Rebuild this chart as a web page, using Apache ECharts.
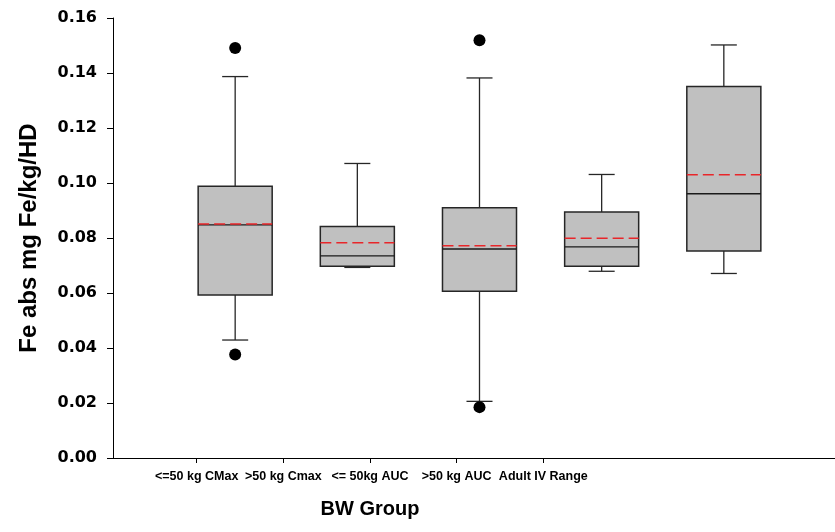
<!DOCTYPE html>
<html>
<head>
<meta charset="utf-8">
<script src="https://cdn.jsdelivr.net/npm/echarts@6/dist/echarts.min.js"></script>
<style>
html,body{margin:0;padding:0;background:#fff;}
#c{width:835px;height:532px;}
</style>
</head>
<body>
<div id="c"></div>
<script>
// ---- data ----
var categories = ['<=50 kg CMax', '>50 kg Cmax', '<= 50kg AUC', '>50 kg AUC', 'Adult IV Range'];
var boxPositions = [1, 2, 3, 4, 5];
var lowerWhisker = [0.0429, 0.0693, 0.0206, 0.0679, 0.0671];
var q1 = [0.0593, 0.0697, 0.0606, 0.0697, 0.0753];
var median = [0.0848, 0.0735, 0.0760, 0.0768, 0.0961];
var q3 = [0.0988, 0.0842, 0.0910, 0.0895, 0.1351];
var upperWhisker = [0.1387, 0.1071, 0.1382, 0.1031, 0.1502];
var means = [0.0851, 0.0783, 0.0772, 0.0799, 0.1030];
var outlierGroup = [1, 1, 3, 3];
var outlierValue = [0.1491, 0.0376, 0.1519, 0.0185];
var yTicks = [0, 0.02, 0.04, 0.06, 0.08, 0.10, 0.12, 0.14, 0.16];

var boxData = boxPositions.map(function (p, i) {
  return [p, lowerWhisker[i], q1[i], median[i], q3[i], upperWhisker[i], means[i]];
});
var outlierData = outlierGroup.map(function (g, i) { return [g, outlierValue[i]]; });

var LINE = '#262626';

function renderBox(params, api) {
  var x = api.value(0);
  var w = api.size([0.606, 0])[0];
  var cw = api.size([0.213, 0])[0];
  var pLow = api.coord([x, api.value(1)]);
  var pQ1 = api.coord([x, api.value(2)]);
  var pMed = api.coord([x, api.value(3)]);
  var pQ3 = api.coord([x, api.value(4)]);
  var pHigh = api.coord([x, api.value(5)]);
  var pMean = api.coord([x, api.value(6)]);
  var cx = pQ1[0];
  var children = [
    {type: 'line', shape: {x1: cx, y1: pQ3[1], x2: cx, y2: pHigh[1]}, style: {stroke: LINE, lineWidth: 1.3}},
    {type: 'line', shape: {x1: cx, y1: pQ1[1], x2: cx, y2: pLow[1]}, style: {stroke: LINE, lineWidth: 1.3}},
    {type: 'line', shape: {x1: cx - cw / 2, y1: pHigh[1], x2: cx + cw / 2, y2: pHigh[1]}, style: {stroke: LINE, lineWidth: 1.3}},
    {type: 'line', shape: {x1: cx - cw / 2, y1: pLow[1], x2: cx + cw / 2, y2: pLow[1]}, style: {stroke: LINE, lineWidth: 1.3}},
    {type: 'rect', shape: {x: cx - w / 2, y: pQ3[1], width: w, height: pQ1[1] - pQ3[1]},
      style: {fill: '#c0c0c0', stroke: LINE, lineWidth: 1.5}},
    {type: 'line', shape: {x1: cx - w / 2, y1: pMed[1], x2: cx + w / 2, y2: pMed[1]}, style: {stroke: '#1a1a1a', lineWidth: 1.3}},
    {type: 'line', shape: {x1: cx - w / 2, y1: pMean[1], x2: cx + w / 2, y2: pMean[1]},
      style: {stroke: '#e8262a', lineWidth: 1.4, lineDash: [11, 5]}}
  ];
  return {type: 'group', children: children};
}

var chart = echarts.init(document.getElementById('c'), null, {renderer: 'canvas'});
chart.setOption({
  animation: false,
  backgroundColor: '#ffffff',
  grid: [
    {left: 113, top: 18, right: 0, bottom: 74},
    {left: 196.7, top: 18, right: 291.7, bottom: 74}
  ],
  xAxis: [
    {
      type: 'value', gridIndex: 0, min: 0, max: 5.91,
      axisLine: {show: true, lineStyle: {color: '#000', width: 1}},
      axisTick: {show: false}, axisLabel: {show: false}, splitLine: {show: false}
    },
    {
      type: 'category', gridIndex: 1, data: categories, boundaryGap: false,
      axisLine: {show: false},
      axisTick: {show: true, length: 5, interval: 0, lineStyle: {color: '#000', width: 1}},
      axisLabel: {
        interval: 0, margin: 12, color: '#000', fontWeight: 'bold', fontSize: 12.5,
        fontFamily: "'Liberation Sans', Arial, sans-serif"
      },
      splitLine: {show: false},
      name: 'BW Group', nameLocation: 'middle', nameGap: 41,
      nameTextStyle: {color: '#000', fontWeight: 'bold', fontSize: 20, fontFamily: "'Liberation Sans', Arial, sans-serif"}
    }
  ],
  yAxis: [
    {
      type: 'value', gridIndex: 0, min: 0, max: 0.16, interval: 0.02,
      axisLine: {show: true, lineStyle: {color: '#000', width: 1}},
      axisTick: {show: true, length: 6, inside: false, lineStyle: {color: '#000', width: 1}},
      axisLabel: {
        margin: 16, color: '#000', fontWeight: 'bold', fontSize: 16,
        fontFamily: "'DejaVu Sans', sans-serif",
        formatter: function (v) {
          for (var i = 0; i < yTicks.length; i++) {
            if (Math.abs(yTicks[i] - v) < 1e-9) return yTicks[i].toFixed(2);
          }
          return '';
        }
      },
      splitLine: {show: false},
      name: 'Fe abs mg Fe/kg/HD', nameLocation: 'middle', nameGap: 72, nameRotate: 90,
      nameTextStyle: {color: '#000', fontWeight: 'bold', fontSize: 24, fontFamily: "'Liberation Sans', Arial, sans-serif"}
    },
    {type: 'value', gridIndex: 1, show: false}
  ],
  series: [
    {
      type: 'custom', xAxisIndex: 0, yAxisIndex: 0,
      renderItem: renderBox, data: boxData, encode: {x: 0, y: [1, 2, 3, 4, 5, 6]}, z: 2
    },
    {
      type: 'scatter', xAxisIndex: 0, yAxisIndex: 0, data: outlierData,
      symbol: 'circle', symbolSize: 12, itemStyle: {color: '#000', opacity: 1}, z: 3
    }
  ]
});
</script>
</body>
</html>
